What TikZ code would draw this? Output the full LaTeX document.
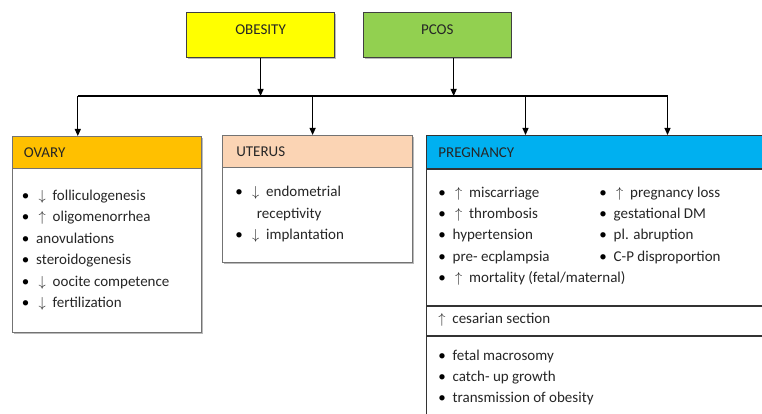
\documentclass[tikz,border=0pt]{standalone}
\usepackage{fontspec}
\setmainfont{Carlito}
\usetikzlibrary{arrows.meta,calc,shadows}
\definecolor{obY}{HTML}{FFFF00}
\definecolor{pcG}{HTML}{92D050}
\definecolor{ovO}{HTML}{FFC000}
\definecolor{utP}{HTML}{FBD4B4}
\definecolor{prB}{HTML}{00B0F0}
\definecolor{txt}{HTML}{262626}
\newcommand\bl{\makebox[6pt][c]{\textcolor{black}{\textbullet}}\hspace{7.5pt}}
\newcommand\ua{\makebox[12pt][c]{$\uparrow$}\hspace{4.5pt}}
\newcommand\da{\makebox[12pt][c]{$\downarrow$}\hspace{4.5pt}}
\tikzset{
  itm/.style={anchor=base west, inner sep=0pt, font=\fontsize{15}{18}\selectfont, text=txt},
  shad/.style={drop shadow={shadow xshift=1.2pt, shadow yshift=-1.4pt, fill=black!45, opacity=0.6}},
  frame/.style={draw=black!55, line width=1.1pt, fill=white, anchor=north west, inner sep=0pt},
  topbox/.style={draw=black!75, line width=1.1pt, anchor=north west, inner sep=0pt,
    font=\fontsize{15}{18}\selectfont, text=txt, text depth=10.7pt, shad},
  headbox/.style={draw=black!55, line width=1.1pt, anchor=north west, inner ysep=0pt,
    align=left, font=\fontsize{15}{18}\selectfont, text=txt},
  arr/.style={-{Triangle[length=7pt,width=6pt]}, line width=1.1pt, black},
  bus/.style={line width=1.1pt, black}
}
\begin{document}
\begin{tikzpicture}[x=1pt,y=-1pt]
\useasboundingbox (0,0) rectangle (762,414);
\clip (0,0) rectangle (762,414);

% top boxes
\node[topbox, fill=obY, minimum width=148pt, minimum height=45.6pt] (obesity) at (186,11.7) {OBESITY};
\node[topbox, fill=pcG, minimum width=147.5pt, minimum height=45.6pt] (pcos) at (363,11.7) {PCOS};

% bus
\coordinate (busL) at (77.8,96);
\coordinate (busR) at (667.5,96);
\coordinate (busU) at (312.6,96);
\coordinate (busP) at (525.5,96);
\draw[bus] (busL) -- (busR);

% ovary
\node[frame, shad, minimum width=189pt, minimum height=196pt] (ovary) at (12,136) {};
\node[headbox, fill=ovO, minimum height=32.3pt, inner xsep=11.3pt, text width=166.4pt] (ovaryH) at (12,136) {OVARY};

% uterus
\node[frame, shad, minimum width=190pt, minimum height=127.3pt] (uterus) at (222,135) {};
\node[headbox, fill=utP, minimum height=32.3pt, inner xsep=13.7pt, text width=162.6pt] (uterusH) at (222,135) {UTERUS};

% pregnancy
\node[frame, draw=black!80, line width=1.3pt, minimum width=345pt, minimum height=290pt] (preg) at (426,135) {};
\node[headbox, draw=black!80, line width=1.3pt, fill=prB, minimum height=33.3pt, inner xsep=11.7pt, text width=321.6pt] (pregH) at (426,135) {PREGNANCY};
\coordinate (sepA) at (426,305.7);
\coordinate (sepB) at (426,335.7);
\draw[line width=1.6pt, black!80] (sepA) -- ++(345,0);
\draw[line width=1.6pt, black!80] (sepB) -- ++(345,0);

% connectors
\draw[arr] (obesity.south) -- (obesity.south |- busL);
\coordinate (pcosOut) at ($(pcos.south west)!0.61!(pcos.south east)$);
\draw[arr] (pcosOut) -- (pcosOut |- busL);
\draw[arr] (busL) -- (busL |- ovary.north);
\draw[arr] (busU) -- (busU |- uterus.north);
\draw[arr] (busP) -- (busP |- preg.north);
\draw[arr] (busR) -- (busR |- preg.north);

% ovary list
\node[itm] (ov1) at (22.5,200.3) {\bl\da folliculogenesis};
\node[itm] (ov2) at (22.5,221.75) {\bl\ua oligomenorrhea};
\node[itm] (ov3) at (22.5,243.2) {\bl anovulations};
\node[itm] (ov4) at (22.5,264.65) {\bl steroidogenesis};
\node[itm] (ov5) at (22.5,286.1) {\bl\da oocite competence};
\node[itm] (ov6) at (22.5,307.55) {\bl\da fertilization};

% uterus list
\node[itm] (ut1) at (236,196.5) {\bl\da endometrial};
\node[itm] (ut2) at (256.7,218) {receptivity};
\node[itm] (ut3) at (236,239.5) {\bl\da implantation};

% pregnancy list
\node[itm] (pr1) at (439,197) {\bl\ua miscarriage};
\node[itm] (pr2) at (439,218.4) {\bl\ua thrombosis};
\node[itm] (pr3) at (439,239.8) {\bl hypertension};
\node[itm] (pr4) at (439,261.2) {\bl pre- ecplampsia};
\node[itm] (pr5) at (439,282.6) {\bl\ua mortality (fetal/maternal)};
\node[itm] (pq1) at (600,197) {\bl\ua pregnancy loss};
\node[itm] (pq2) at (600,218.4) {\bl gestational DM};
\node[itm] (pq3) at (600,239.8) {\bl pl. abruption};
\node[itm] (pq4) at (600,261.2) {\bl C-P disproportion};

\node[itm] (ces) at (435.7,323.5) {\ua cesarian section};

\node[itm] (fe1) at (439,360.5) {\bl fetal macrosomy};
\node[itm] (fe2) at (439,381.5) {\bl catch- up growth};
\node[itm] (fe3) at (439,402.5) {\bl transmission of obesity};
\end{tikzpicture}
\end{document}
